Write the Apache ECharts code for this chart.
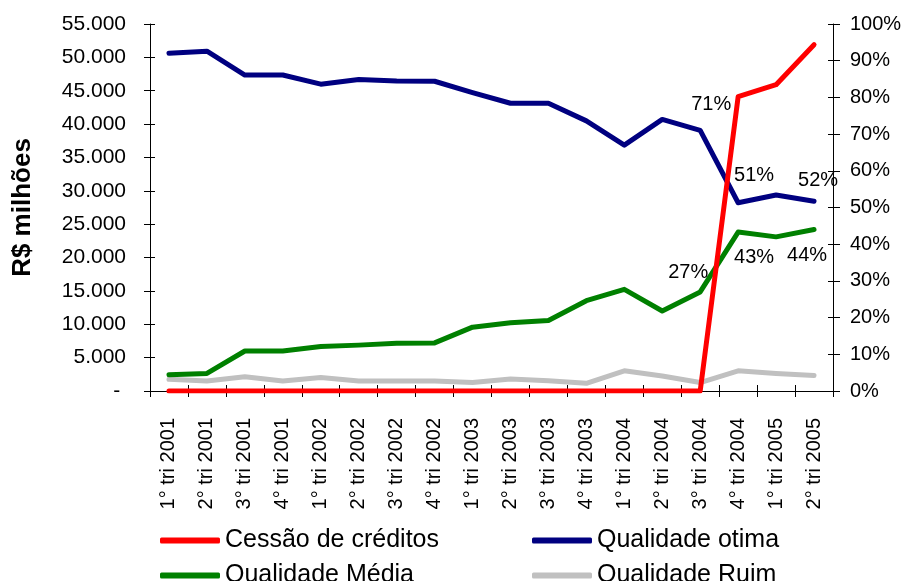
<!DOCTYPE html>
<html>
<head>
<meta charset="utf-8">
<script src="https://cdn.jsdelivr.net/npm/echarts@6/dist/echarts.min.js"></script>
<style>
  html, body { margin: 0; padding: 0; background: #fff; }
  #chart { width: 907px; height: 581px; }
</style>
</head>
<body>
<div id="chart"></div>
<script>
// trimestres
const categorias = ['1° tri 2001', '2° tri 2001', '3° tri 2001', '4° tri 2001',
  '1° tri 2002', '2° tri 2002', '3° tri 2002', '4° tri 2002',
  '1° tri 2003', '2° tri 2003', '3° tri 2003', '4° tri 2003',
  '1° tri 2004', '2° tri 2004', '3° tri 2004', '4° tri 2004',
  '1° tri 2005', '2° tri 2005']

// R$ milhões (eixo esquerdo)
const cessao = [0, 0, 0, 0, 0, 0, 0, 0, 0, 0, 0, 0, 0, 0, 0, 44100, 45900, 51900]
// % (eixo direito)
const otima = [92.0, 92.6, 86.1, 86.1, 83.6, 84.9, 84.5, 84.4, 81.3, 78.4, 78.4, 73.6, 67.0, 74.0, 71.0, 51.3, 53.4, 51.7]
const media = [4.4, 4.8, 10.9, 10.9, 12.1, 12.5, 13.0, 13.1, 17.4, 18.6, 19.2, 24.6, 27.7, 21.8, 27.0, 43.3, 42.0, 44.0]
const ruim = [3.2, 2.7, 3.9, 2.7, 3.7, 2.7, 2.7, 2.7, 2.3, 3.3, 2.8, 2.1, 5.5, 4.1, 2.3, 5.5, 4.8, 4.2]

// rótulos de dados: índice -> deslocamento
const otimaRotulos = { 14: [11, -26], 15: [16, -27], 17: [4, -21] }
const mediaRotulos = { 14: [-12, -19], 15: [16, 25], 17: [-7, 26] }

const FONTE = "'Liberation Sans', Arial, sans-serif"

function comRotulos(valores, rotulos) {
  return valores.map((v, i) => {
    if (!rotulos[i]) return v
    return {
      value: v,
      label: {
        show: true,
        position: 'inside',
        offset: rotulos[i],
        formatter: p => Math.round(p.value) + '%',
        color: '#000',
        fontSize: 20,
        fontFamily: FONTE
      }
    }
  })
}

function milhar(v) {
  if (v === 0) return '- '
  return String(v).replace(/\B(?=(\d{3})+(?!\d))/g, '.')
}

// uma legenda por item, para alinhar em duas colunas
function legenda(nome, left, top) {
  return {
    orient: 'horizontal',
    left: left,
    top: top,
    padding: 0,
    itemWidth: 60,
    itemHeight: 6,
    icon: 'roundRect',
    data: [nome],
    textStyle: { fontSize: 25, lineHeight: 18, color: '#000', fontFamily: FONTE }
  }
}

let myEcharts = echarts.init(document.querySelector('#chart'))
let linha = (nome, cor, dados, eixo, z) => ({
  name: nome,
  type: 'line',
  data: dados,
  yAxisIndex: eixo,
  z: z,
  symbol: 'circle',
  symbolSize: 1,
  animation: false,
  itemStyle: { color: cor },
  lineStyle: { color: cor, width: 5, cap: 'round', join: 'round' },
  emphasis: { disabled: true }
})

let eixoTick = { lineStyle: { color: '#000', width: 1 } }
let option = {
  backgroundColor: '#fff',
  animation: false,
  grid: { left: 150, right: 74, top: 24, bottom: 190, containLabel: false },
  legend: [
    legenda('Cessão de créditos', 160, 528),
    legenda('Qualidade Média', 160, 563),
    legenda('Qualidade otima', 532, 528),
    legenda('Qualidade Ruim', 532, 563)
  ],
  xAxis: [
    {
      type: 'category',
      data: categorias,
      boundaryGap: true,
      axisLine: { show: true, onZero: false, lineStyle: { color: '#000' } },
      axisTick: { show: true, length: 6, interval: 0, ...eixoTick },
      axisLabel: { rotate: 90, interval: 0, margin: 27, fontSize: 20, color: '#000', fontFamily: FONTE },
      splitLine: { show: false }
    },
    {
      type: 'category',
      data: categorias,
      position: 'bottom',
      boundaryGap: true,
      axisLine: { show: false },
      axisTick: { show: true, inside: true, length: 6, interval: 0, ...eixoTick },
      axisLabel: { show: false },
      splitLine: { show: false }
    }
  ],
  yAxis: [
    {
      type: 'value',
      position: 'left',
      min: 0,
      max: 55000,
      interval: 5000,
      name: 'R$ milhões',
      nameLocation: 'middle',
      nameRotate: 90,
      nameGap: 114,
      nameTextStyle: { fontSize: 26, fontWeight: 'bold', color: '#000', fontFamily: FONTE },
      axisLine: { show: true, lineStyle: { color: '#000' } },
      axisTick: { show: true, length: 6, ...eixoTick },
      axisLabel: { formatter: milhar, margin: 24, fontSize: 21, color: '#000', fontFamily: FONTE },
      splitLine: { show: false }
    },
    {
      type: 'value',
      position: 'right',
      min: 0,
      max: 100,
      interval: 10,
      axisLine: { show: true, lineStyle: { color: '#000' } },
      axisTick: { show: true, length: 7, ...eixoTick },
      axisLabel: { formatter: '{value}%', margin: 17, fontSize: 20, color: '#000', fontFamily: FONTE },
      splitLine: { show: false }
    },
    {
      type: 'value',
      position: 'left',
      min: 0,
      max: 55000,
      interval: 5000,
      axisLine: { show: false },
      axisTick: { show: true, inside: true, length: 5, ...eixoTick },
      axisLabel: { show: false },
      splitLine: { show: false }
    },
    {
      type: 'value',
      position: 'right',
      min: 0,
      max: 100,
      interval: 10,
      axisLine: { show: false },
      axisTick: { show: true, inside: true, length: 5, ...eixoTick },
      axisLabel: { show: false },
      splitLine: { show: false }
    }
  ],
  series: [
    linha('Cessão de créditos', '#ff0000', cessao, 0, 4),
    linha('Qualidade otima', '#000080', comRotulos(otima, otimaRotulos), 1, 3),
    linha('Qualidade Média', '#008000', comRotulos(media, mediaRotulos), 1, 3),
    linha('Qualidade Ruim', '#c0c0c0', ruim, 1, 2)
  ]
}
myEcharts.setOption(option)
</script>
</body>
</html>
